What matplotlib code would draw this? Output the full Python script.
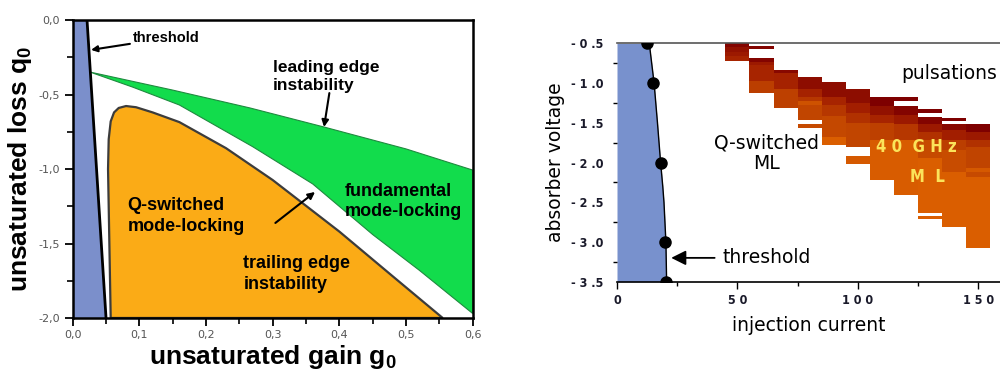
import matplotlib
matplotlib.use('Agg')
import matplotlib.pyplot as plt
from matplotlib.colors import LinearSegmentedColormap
from matplotlib.ticker import FixedLocator

# ---------------- left panel: regions in the (g0, q0) plane ----------------
gain_ticks = [0.0, 0.1, 0.2, 0.3, 0.4, 0.5, 0.6]
gain_labels = ['0,0', '0,1', '0,2', '0,3', '0,4', '0,5', '0,6']
loss_ticks = [0.0, -0.5, -1.0, -1.5, -2.0]
loss_labels = ['0,0', '-0,5', '-1,0', '-1,5', '-2,0']

# lasing threshold line
threshold_g = [0.0215, 0.050]
threshold_q = [0.0, -2.0]

# Q-switched mode-locking region outline
qsml_g = [0.057, 0.055, 0.053, 0.054, 0.057, 0.062, 0.069, 0.080, 0.095, 0.120,
          0.160, 0.230, 0.300, 0.400, 0.480, 0.555]
qsml_q = [-2.0, -1.5, -1.0, -0.80, -0.68, -0.62, -0.59, -0.577, -0.585, -0.62,
          -0.685, -0.86, -1.074, -1.42, -1.72, -2.0]

# fundamental mode-locking region: upper (leading edge) and lower (trailing edge) borders
fml_upper_g = [0.026, 0.15, 0.266, 0.377, 0.50, 0.60]
fml_upper_q = [-0.349, -0.47, -0.59, -0.718, -0.865, -1.007]
fml_lower_g = [0.60, 0.52, 0.45, 0.36, 0.27, 0.16, 0.09, 0.026]
fml_lower_q = [-1.97, -1.68, -1.44, -1.10, -0.85, -0.57, -0.45, -0.349]

# ---------------- right panel: measured map ----------------
current_ticks = [0, 50, 100, 150]
current_labels = ['0', '5 0', '1 0 0', '1 5 0']
voltage_ticks = [-0.5, -1.0, -1.5, -2.0, -2.5, -3.0, -3.5]
voltage_labels = ['- 0 .5', '- 1 .0', '- 1 .5', '- 2 .0', '- 2 .5', '- 3 .0', '- 3 .5']

thr_current = [12.6, 15.0, 18.3, 20.1, 20.3]
thr_voltage = [-0.5, -1.0, -2.0, -3.0, -3.5]
edge_current = [13.4, 15.4, 16.8, 18.1, 19.0, 19.5, 20.3, 20.6]
edge_voltage = [-0.5, -1.0, -1.5, -2.0, -2.3, -2.5, -3.0, -3.5]

# left edge of each 10 mA column
col_current = [45, 55, 65, 75, 85, 95, 105, 115, 125, 135, 145]
# per column: (top voltage, bottom voltage, shade 0=dark red .. 1=orange)
col_bands = [
    [(-0.50, -0.55, 0.05), (-0.55, -0.61, 0.2), (-0.61, -0.66, 0.3), (-0.66, -0.72, 0.4)],
    [(-0.535, -0.57, 0.05), (-0.68, -0.73, 0.05), (-0.73, -0.77, 0.3), (-0.77, -0.98, 0.4),
     (-0.98, -1.12, 0.6)],
    [(-0.836, -0.878, 0.1), (-0.878, -1.08, 0.38), (-1.08, -1.32, 0.62)],
    [(-0.928, -1.08, 0.15), (-1.08, -1.17, 0.38), (-1.17, -1.22, 0.55), (-1.22, -1.28, 0.78),
     (-1.28, -1.465, 0.66), (-1.515, -1.57, 0.7)],
    [(-0.983, -1.17, 0.15), (-1.17, -1.28, 0.4), (-1.28, -1.42, 0.55), (-1.42, -1.675, 0.68),
     (-1.675, -1.78, 0.9)],
    [(-1.08, -1.255, 0.15), (-1.255, -1.38, 0.35), (-1.38, -1.505, 0.5), (-1.505, -1.80, 0.66),
     (-1.92, -2.02, 0.85)],
    [(-1.17, -1.29, 0.0), (-1.29, -1.40, 0.2), (-1.40, -1.507, 0.4), (-1.507, -1.716, 0.62),
     (-1.716, -2.22, 0.88)],
    [(-1.17, -1.22, 0.0), (-1.29, -1.40, 0.05), (-1.40, -1.51, 0.3), (-1.51, -1.72, 0.55),
     (-1.72, -2.41, 0.88)],
    [(-1.33, -1.375, 0.0), (-1.43, -1.51, 0.05), (-1.51, -1.61, 0.3), (-1.61, -1.72, 0.5),
     (-1.72, -1.94, 0.7), (-1.94, -2.63, 0.9), (-2.67, -2.71, 0.9)],
    [(-1.435, -1.475, 0.0), (-1.515, -1.59, 0.1), (-1.59, -1.72, 0.35), (-1.72, -1.84, 0.6),
     (-1.84, -2.115, 0.72), (-2.115, -2.81, 0.9)],
    [(-1.52, -1.61, 0.0), (-1.61, -1.72, 0.3), (-1.72, -1.80, 0.5), (-1.80, -2.07, 0.65),
     (-2.07, -2.115, 0.85), (-2.115, -2.18, 0.7), (-2.18, -3.08, 0.9)],
]

heat = LinearSegmentedColormap.from_list(
    'heat', ['#7e0000', '#a01c00', '#c24600', '#e46800'])

plt.rcParams['mathtext.fontset'] = 'custom'
plt.rcParams['mathtext.bf'] = 'Liberation Sans:bold'
plt.rcParams['mathtext.rm'] = 'Liberation Sans:bold'

fig = plt.figure(figsize=(10, 3.79), dpi=100)

# ======================= left panel =======================
ax = fig.add_axes([0.0727, 0.161, 0.400, 0.786])
bold = dict(family='Liberation Sans', weight='bold')

ax.fill([0.0, threshold_g[0], threshold_g[1], 0.0], [0.0, 0.0, -2.0, -2.0],
        color='#7b8fcb', lw=0, zorder=1)
ax.plot(threshold_g, threshold_q, color='black', lw=2, zorder=3)
ax.fill(qsml_g, qsml_q, facecolor='#fbab16', edgecolor='#3c3c3c', lw=1.6, zorder=2)
ax.fill(fml_upper_g + fml_lower_g, fml_upper_q + fml_lower_q,
        facecolor='#12dc4c', edgecolor='#1f8a3f', lw=0.8, zorder=2)

ax.set_xlim(0, 0.6)
ax.set_ylim(-2.0, 0.0)
ax.set_xticks(gain_ticks)
ax.set_xticklabels(gain_labels)
ax.set_yticks(loss_ticks)
ax.set_yticklabels(loss_labels)
ax.xaxis.set_minor_locator(FixedLocator([0.05, 0.15, 0.25, 0.35, 0.45, 0.55]))
ax.yaxis.set_minor_locator(FixedLocator([-0.25, -0.75, -1.25, -1.75]))
ax.tick_params(which='major', direction='out', length=6, width=1.3, labelsize=8,
               labelcolor='#555555', pad=3)
ax.tick_params(which='minor', direction='out', length=4, width=1.2)
for s in ax.spines.values():
    s.set_linewidth(1.8)
    s.set_zorder(5)
ax.set_xlabel(r'unsaturated gain g$_\mathbf{0}$', fontsize=19, labelpad=2, **bold)
ax.set_ylabel(r'unsaturated loss q$_\mathbf{0}$', fontsize=19, labelpad=3, **bold)

ax.annotate('threshold', xy=(0.0275, -0.20), xytext=(0.090, -0.122),
            fontsize=10.5, va='center', ha='left', **bold,
            arrowprops=dict(arrowstyle='-|>', color='black', lw=1.5, mutation_scale=9,
                            shrinkA=0, shrinkB=0))
ax.text(0.30, -0.38, 'leading edge\ninstability', fontsize=12.5, ha='left', va='center',
        linespacing=1.25, **bold)
ax.annotate('', xy=(0.377, -0.718), xytext=(0.385, -0.49),
            arrowprops=dict(arrowstyle='-|>', color='black', lw=1.5, mutation_scale=10,
                            shrinkA=0, shrinkB=0))
ax.text(0.082, -1.315, 'Q-switched\nmode-locking', fontsize=13, ha='left', va='center',
        linespacing=1.25, **bold)
ax.text(0.408, -1.22, 'fundamental\nmode-locking', fontsize=13, ha='left', va='center',
        linespacing=1.25, **bold)
ax.text(0.256, -1.705, 'trailing edge\ninstability', fontsize=13, ha='left', va='center',
        linespacing=1.25, **bold)
ax.annotate('', xy=(0.3635, -1.154), xytext=(0.304, -1.362),
            arrowprops=dict(arrowstyle='-|>', color='black', lw=1.5, mutation_scale=10,
                            shrinkA=0, shrinkB=0))

# ======================= right panel =======================
bx = fig.add_axes([0.617, 0.2567, 0.383, 0.629])

bx.fill_betweenx(edge_voltage, 0, edge_current, color='#7891cd', lw=0, zorder=1)
bx.plot(edge_current, edge_voltage, color='black', lw=1, zorder=3)
bx.plot(thr_current, thr_voltage, 'o', color='black', ms=8, zorder=4)

for c, bands in zip(col_current, col_bands):
    for top, bot, shade in bands:
        bx.bar(c, top - bot, bottom=bot, width=10, align='edge',
               color=heat(shade), lw=0, zorder=2)

cond = dict(family='DejaVu Sans', stretch='condensed', weight='bold')
bx.set_xlim(0, 159)
bx.set_ylim(-3.5, -0.5)
bx.set_xticks(current_ticks)
bx.set_xticklabels(current_labels, **cond)
bx.set_yticks(voltage_ticks)
bx.set_yticklabels(voltage_labels, **cond)
bx.xaxis.set_minor_locator(FixedLocator([25, 75, 125]))
bx.yaxis.set_minor_locator(FixedLocator([-0.75, -1.25, -1.75, -2.25, -2.75, -3.25]))
bx.tick_params(axis='x', which='major', direction='out', length=5, width=1, labelsize=9,
               labelcolor='#1a1a2a', pad=4)
bx.tick_params(axis='x', which='minor', direction='out', length=3, width=1)
bx.tick_params(axis='y', which='major', length=0, labelsize=9, labelcolor='#1a1a2a', pad=10)
bx.tick_params(axis='y', which='minor', direction='out', length=3, width=1)
bx.spines['left'].set_visible(False)
bx.spines['right'].set_visible(False)
bx.spines['top'].set_color('#555555')
bx.spines['top'].set_linewidth(1.2)
bx.spines['bottom'].set_linewidth(1.2)
bx.set_xlabel('injection current', fontsize=13.5, labelpad=6)
bx.set_ylabel('absorber voltage', fontsize=13.5, labelpad=4)

bx.text(62, -1.88, 'Q-switched\nML', fontsize=13.5, ha='center', va='center', linespacing=1.1)
bx.text(158, -0.88, 'pulsations', fontsize=13.5, ha='right', va='center')
bx.text(107.5, -1.80, '4 0  G H z', fontsize=12, ha='left', va='center',
        color='#fbe45a', zorder=5, **cond)
bx.text(128.8, -2.18, 'M  L', fontsize=12, ha='center', va='center',
        color='#fbe45a', zorder=5, **cond)
bx.annotate('threshold', xy=(22.5, -3.20), xytext=(44, -3.20), fontsize=13.5,
            ha='left', va='center',
            arrowprops=dict(arrowstyle='-|>', color='black', lw=1.3, mutation_scale=22,
                            shrinkA=4, shrinkB=0))

fig.savefig('out.png', dpi=100)
